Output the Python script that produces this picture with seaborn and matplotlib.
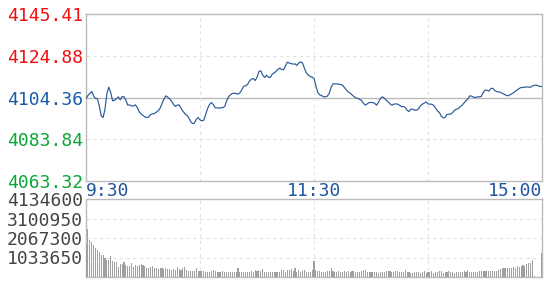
import numpy as np
import pandas as pd
import matplotlib
matplotlib.use("Agg")
import matplotlib.pyplot as plt
import seaborn as sns

# ---------------- data ----------------
price_ticks = [4145.41, 4124.88, 4104.36, 4083.84, 4063.32]
price_tick_colors = ["#f01010", "#f01010", "#1a5da6", "#0ba63a", "#0ba63a"]
vol_ticks = [4134600, 3100950, 2067300, 1033650]
time_labels = ["9:30", "11:30", "15:00"]
time_label_minutes = [0, 120, 240]
grid_minutes = [60, 120, 180]

price = [
    4103.87, 4105.34, 4106.33, 4107.31, 4105.18, 4103.87, 4103.87, 4100.26, 4095.35, 4094.53,
    4098.62, 4106.33, 4109.44, 4106.82, 4102.72, 4103.05, 4103.70, 4104.69, 4103.21, 4104.85,
    4104.69, 4103.05, 4100.59, 4100.75, 4100.10, 4100.26, 4100.75, 4099.44, 4097.31, 4096.33,
    4095.51, 4094.85, 4094.53, 4094.69, 4096.00, 4096.33, 4096.49, 4097.15, 4097.80, 4099.12,
    4101.41, 4103.54, 4105.18, 4104.52, 4103.70, 4102.56, 4101.08, 4099.93, 4100.59, 4100.75,
    4099.12, 4097.64, 4096.49, 4095.67, 4094.53, 4092.72, 4091.58, 4091.74, 4093.54, 4094.53,
    4093.38, 4092.89, 4093.21, 4096.16, 4098.95, 4100.92, 4101.90, 4100.92, 4099.28, 4099.28,
    4099.12, 4099.28, 4099.44, 4099.93, 4102.72, 4104.69, 4105.67, 4106.33, 4106.49, 4106.33,
    4106.00, 4106.65, 4108.13, 4109.93, 4110.10, 4110.75, 4112.39, 4113.37, 4113.70, 4112.72,
    4114.19, 4117.14, 4117.47, 4115.34, 4114.19, 4115.34, 4114.36, 4114.19, 4115.83, 4116.49,
    4117.14, 4118.29, 4118.78, 4118.13, 4117.96, 4119.93, 4121.73, 4121.24, 4121.08, 4120.75,
    4120.91, 4120.09, 4121.41, 4121.90, 4121.24, 4118.62, 4116.49, 4115.34, 4114.69, 4114.36,
    4113.87, 4110.10, 4106.82, 4105.67, 4105.34, 4104.69, 4104.69, 4105.02, 4106.33, 4109.28,
    4111.08, 4111.08, 4111.08, 4110.92, 4110.75, 4110.42, 4109.28, 4108.13, 4107.15, 4106.49,
    4105.67, 4104.85, 4104.20, 4103.87, 4103.54, 4102.88, 4101.57, 4100.59, 4101.25, 4101.90,
    4101.90, 4101.90, 4101.41, 4100.59, 4102.23, 4103.87, 4104.69, 4104.03, 4103.05, 4102.23,
    4101.25, 4100.59, 4101.08, 4101.25, 4101.08, 4100.59, 4099.93, 4099.93, 4099.44, 4098.13,
    4097.48, 4098.62, 4098.62, 4098.13, 4098.13, 4098.79, 4100.26, 4101.08, 4101.57, 4102.23,
    4101.25, 4101.08, 4101.08, 4100.43, 4099.12, 4097.80, 4096.98, 4095.18, 4094.36, 4094.53,
    4096.00, 4096.16, 4096.16, 4096.98, 4098.13, 4098.62, 4098.95, 4099.93, 4100.59, 4101.74,
    4102.72, 4103.70, 4105.18, 4105.02, 4104.52, 4104.36, 4104.69, 4104.69, 4104.85, 4106.65,
    4107.97, 4107.97, 4107.47, 4108.62, 4108.95, 4107.97, 4107.31, 4107.15, 4106.98, 4106.49,
    4106.00, 4105.51, 4105.18, 4105.67, 4106.16, 4106.65, 4107.47, 4108.13, 4108.79, 4109.28,
    4109.28, 4109.44, 4109.60, 4109.44, 4109.44, 4110.10, 4110.42, 4110.42, 4110.10, 4109.77,
    4109.77,
]

volume = [
    1700000, 2550000, 1960000, 1840000, 1700000, 1520000, 1430000, 1350000, 1170000, 1170000,
    1030000, 900000, 900000, 1120000, 850000, 810000, 780000, 550000, 690000, 690000,
    800000, 640000, 580000, 580000, 730000, 510000, 640000, 600000, 640000, 690000,
    640000, 580000, 460000, 460000, 510000, 580000, 460000, 460000, 440000, 460000,
    490000, 420000, 460000, 410000, 410000, 370000, 410000, 370000, 550000, 410000,
    370000, 460000, 510000, 370000, 340000, 340000, 320000, 340000, 460000, 340000,
    300000, 300000, 320000, 280000, 280000, 280000, 340000, 370000, 340000, 280000,
    280000, 280000, 340000, 250000, 280000, 280000, 280000, 280000, 280000, 250000,
    460000, 280000, 250000, 250000, 250000, 280000, 280000, 340000, 280000, 370000,
    340000, 370000, 340000, 410000, 280000, 250000, 280000, 280000, 280000, 280000,
    250000, 250000, 250000, 370000, 370000, 280000, 370000, 370000, 410000, 340000,
    460000, 280000, 370000, 280000, 340000, 370000, 280000, 250000, 280000, 370000,
    870000,
    370000, 320000, 320000, 280000, 280000, 280000, 300000, 320000, 460000, 300000,
    280000, 280000, 300000, 250000, 280000, 300000, 280000, 320000, 280000, 300000,
    320000, 280000, 250000, 280000, 320000, 370000, 370000, 280000, 280000, 250000,
    250000, 280000, 280000, 230000, 250000, 280000, 280000, 300000, 320000, 320000,
    280000, 280000, 300000, 320000, 280000, 250000, 280000, 370000, 280000, 250000,
    230000, 230000, 250000, 280000, 250000, 230000, 280000, 300000, 230000, 250000,
    280000, 300000, 230000, 250000, 280000, 320000, 300000, 230000, 250000, 280000,
    300000, 280000, 250000, 230000, 280000, 280000, 250000, 280000, 300000, 280000,
    370000, 280000, 280000, 250000, 280000, 280000, 320000, 320000, 320000, 320000,
    320000, 320000, 320000, 340000, 320000, 340000, 370000, 410000, 460000, 460000,
    460000, 460000, 490000, 460000, 510000, 460000, 580000, 550000, 580000, 640000,
    600000, 690000, 730000, 760000, 900000, 40000, 0, 0, 0, 1290000,
]

minutes = list(range(len(price)))
df = pd.DataFrame({"minute": minutes, "price": price, "volume": volume})

# ---------------- style ----------------
sns.set_theme(style="white")
plt.rcParams["font.family"] = ["DejaVu Sans Mono", "DejaVu Sans"]

BORDER = "#bbbbbb"
GRID = "#e2e2e2"
LINE = "#2a5897"
BAR = "#a0a0a0"
TIMEC = "#2255a0"
FS = 13

fig = plt.figure(figsize=(5.45, 3.0), dpi=100)
W, H = 545.0, 300.0
ax1 = fig.add_axes([86 / W, 1 - 181 / H, 456 / W, 167 / H])
ax2 = fig.add_axes([86 / W, 1 - 277 / H, 456 / W, 78 / H])

# ---------------- price panel ----------------
for yv in price_ticks[1:-1]:
    if yv == price_ticks[2]:
        ax1.axhline(yv, color=BORDER, lw=1.0, zorder=1)
    else:
        ax1.axhline(yv, color=GRID, lw=0.8, ls=(0, (3, 3)), zorder=1)
for xv in grid_minutes:
    ax1.axvline(xv, color=GRID, lw=0.8, ls=(0, (3, 3)), zorder=1)

sns.lineplot(data=df, x="minute", y="price", ax=ax1, color=LINE, lw=0.85, zorder=3)
ax1.set_xlim(0, 240)
ax1.set_ylim(price_ticks[-1], price_ticks[0])
ax1.set_yticks(price_ticks)
ax1.set_yticklabels([f"{v:.2f}" for v in price_ticks], fontsize=FS)
for lab, c in zip(ax1.get_yticklabels(), price_tick_colors):
    lab.set_color(c)
ax1.set_xticks(time_label_minutes)
ax1.set_xticklabels(time_labels, fontsize=FS, color=TIMEC)
xl = ax1.get_xticklabels()
xl[0].set_ha("left")
xl[-1].set_ha("right")
ax1.tick_params(axis="both", length=0)
ax1.tick_params(axis="y", pad=2)
ax1.tick_params(axis="x", pad=1.0)
ax1.set_xlabel("")
ax1.set_ylabel("")

# ---------------- volume panel ----------------
for yv in vol_ticks[1:]:
    ax2.axhline(yv, color=GRID, lw=0.8, ls=(0, (3, 3)), zorder=1)
for xv in grid_minutes:
    ax2.axvline(xv, color=GRID, lw=0.8, ls=(0, (3, 3)), zorder=1)

sns.barplot(data=df, x="minute", y="volume", ax=ax2, native_scale=True,
            color=BAR, saturation=1, width=0.55, errorbar=None, linewidth=0,
            zorder=3)
ax2.set_xlim(0, 240)
ax2.set_ylim(0, vol_ticks[0])
ax2.set_yticks(vol_ticks)
ax2.set_yticklabels([str(v) for v in vol_ticks], fontsize=FS, color="#444444")
ax2.set_xticks([])
ax2.tick_params(axis="both", length=0)
ax2.tick_params(axis="y", pad=2)
ax2.set_xlabel("")
ax2.set_ylabel("")

for ax in (ax1, ax2):
    for s in ax.spines.values():
        s.set_visible(True)
        s.set_color(BORDER)
        s.set_linewidth(1.0)

fig.savefig("out.png", dpi=100, facecolor="white")
